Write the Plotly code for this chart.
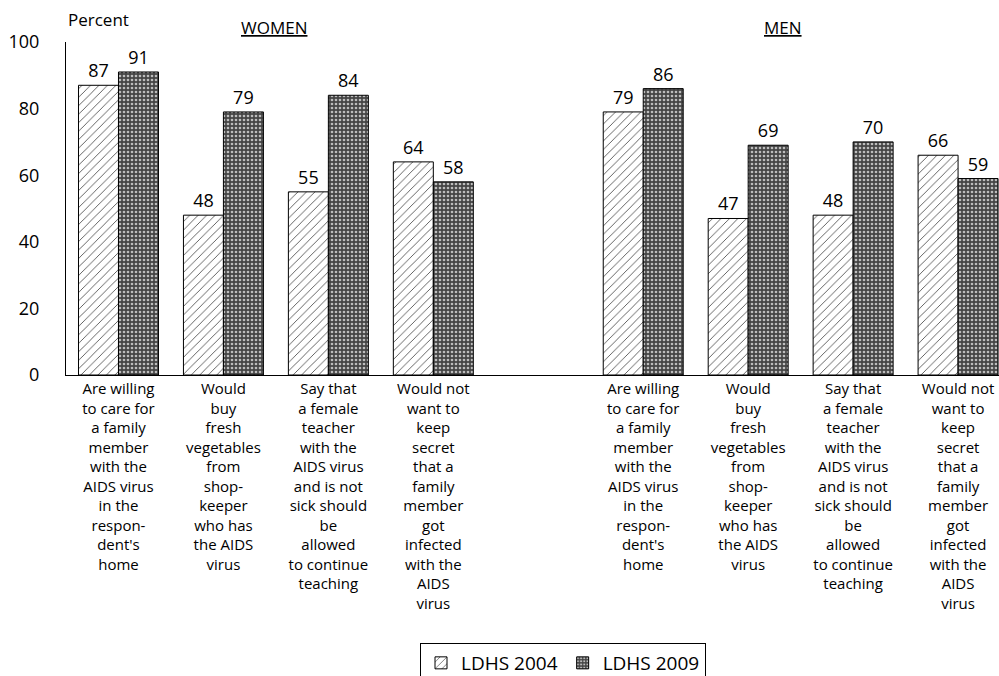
import plotly.graph_objects as go

# ---- data ----
categories = [
    "Are willing<br>to care for<br>a family<br>member<br>with the<br>AIDS virus<br>in the<br>respon-<br>dent's<br>home",
    "Would<br>buy<br>fresh<br>vegetables<br>from<br>shop-<br>keeper<br>who has<br>the AIDS<br>virus",
    "Say that<br>a female<br>teacher<br>with the<br>AIDS virus<br>and is not<br>sick should<br>be<br>allowed<br>to continue<br>teaching",
    "Would not<br>want to<br>keep<br>secret<br>that a<br>family<br>member<br>got<br>infected<br>with the<br>AIDS<br>virus",
]
women_2004 = [87, 48, 55, 64]
women_2009 = [91, 79, 84, 58]
men_2004 = [79, 47, 48, 66]
men_2009 = [86, 69, 70, 59]
series_names = ["LDHS 2004", "LDHS 2009"]
y_ticks = [0, 20, 40, 60, 80, 100]

FONT = "Open Sans"

# slot positions: women 0..3, one empty slot, men 5..8
n = len(categories)
women_pos = list(range(n))
men_pos = [n + 1 + i for i in range(n)]
positions = women_pos + men_pos
labels = categories + categories

vals_2004 = women_2004 + men_2004
vals_2009 = women_2009 + men_2009

fig = go.Figure()
fig.add_trace(go.Bar(
    name=series_names[0], x=positions, y=vals_2004,
    text=vals_2004, textposition="outside", cliponaxis=False,
    textfont=dict(family=FONT, size=18, color="black"),
    marker=dict(color="white", line=dict(color="black", width=1),
                pattern=dict(shape="/", bgcolor="white", fgcolor="#555555",
                             size=6, solidity=0.15, fillmode="replace")),
))
fig.add_trace(go.Bar(
    name=series_names[1], x=positions, y=vals_2009,
    text=vals_2009, textposition="outside", cliponaxis=False,
    textfont=dict(family=FONT, size=18, color="black"),
    marker=dict(color="#444444", line=dict(color="black", width=1),
                pattern=dict(shape=".", bgcolor="#454545", fgcolor="#bdbdbd",
                             size=4, solidity=0.35, fillmode="replace")),
))

top_px, bottom_px, H, W = 42, 375, 676, 999
left_px = 66
ph = bottom_px - top_px
pw = W - left_px

def py(px):
    return (bottom_px - px) / ph

def px_(x):
    return (x - left_px) / pw

fig.update_layout(
    width=W, height=H, autosize=False,
    margin=dict(l=left_px, r=0, t=top_px, b=H - bottom_px, autoexpand=False),
    paper_bgcolor="white", plot_bgcolor="white",
    barmode="group", bargap=0.238, bargroupgap=0,
    font=dict(family=FONT, size=15, color="black"),
    showlegend=True,
    legend=dict(orientation="h", x=px_(563), xanchor="center", y=py(643), yanchor="top",
                bordercolor="black", borderwidth=1, font=dict(family=FONT, size=19),
                itemwidth=30, tracegroupgap=0),
    xaxis=dict(range=[-0.5, 8.39], tickvals=positions, ticktext=labels,
               showline=True, linecolor="black", linewidth=1, ticks="",
               showgrid=False, zeroline=False, tickangle=0, automargin=False,
               tickfont=dict(family=FONT, size=15)),
    yaxis=dict(range=[0, 100], tickvals=y_ticks, showline=True, linecolor="black",
               linewidth=1, ticks="", showgrid=False, zeroline=False, automargin=False,
               ticklabelstandoff=22, tickfont=dict(family=FONT, size=18)),
    annotations=[
        dict(text="Percent", xref="paper", yref="paper", x=0, y=py(20),
             xanchor="left", yanchor="middle", showarrow=False,
             font=dict(family=FONT, size=17)),
        dict(text="<u>WOMEN</u>", xref="x", yref="paper", x=1.48, y=py(27),
             xanchor="center", yanchor="middle", showarrow=False,
             font=dict(family=FONT, size=17)),
        dict(text="<u>MEN</u>", xref="x", yref="paper", x=6.33, y=py(27),
             xanchor="center", yanchor="middle", showarrow=False,
             font=dict(family=FONT, size=17)),
    ],
)

fig.write_html("out.html", config={"displayModeBar": False},
               post_script="document.body.style.margin='0';")
